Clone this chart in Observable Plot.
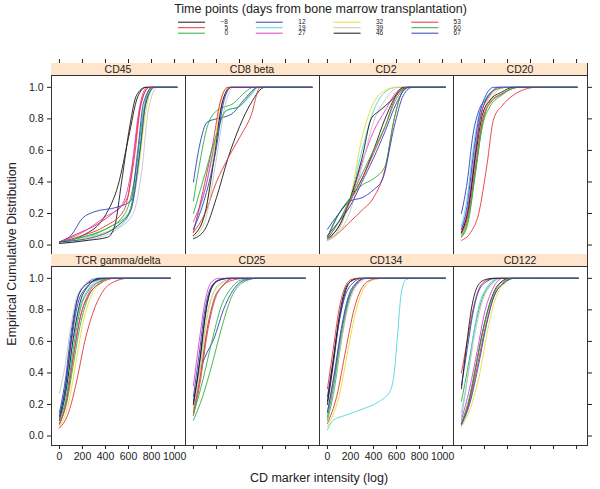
<!DOCTYPE html>
<html><head><meta charset="utf-8">
<script src="https://cdn.jsdelivr.net/npm/d3@7"></script>
<script src="https://cdn.jsdelivr.net/npm/@observablehq/plot@0.6"></script>
<style>
body{margin:0;background:#fff;font-family:"Liberation Sans",Arial,Helvetica,sans-serif;}
#chart{position:relative;width:600px;height:489px;overflow:hidden;background:#fff;}
.strip{position:absolute;background:#ffe5cc;border-bottom:1px solid #333;box-sizing:border-box;font-size:10.5px;line-height:12px;text-align:center;color:#222;font-weight:normal;}
.ytitle{position:absolute;left:12px;top:254px;transform:translate(-50%,-50%) rotate(-90deg);font-size:12.5px;white-space:nowrap;color:#222;}
.xtitle{position:absolute;left:319px;top:478px;transform:translate(-50%,-50%);font-size:12.5px;white-space:nowrap;color:#222;}
svg{overflow:visible;}
</style></head>
<body><div id="chart"></div>
<script>
// ---------- data ----------
const legendTitle = "Time points (days from bone marrow transplantation)";
const markers = ["CD45","CD8 beta","CD2","CD20","TCR gamma/delta","CD25","CD134","CD122"];
const timePoints = ["\u22128","5","0","12","19","27","32","39","46","53","60","67"];
const lineColors = ["#1a1a1a","#e8333a","#2eb040","#3040c0","#4ad8dc","#e040c8","#e8dc30","#c4c4c4","#1a1a1a","#e8333a","#2eb040","#3040c0"];
const xTicks = [0,200,400,600,800,1000];
const yTicks = [0,0.2,0.4,0.6,0.8,1];
const xAxisTitle = "CD marker intensity (log)";
const yAxisTitle = "Empirical Cumulative Distribution";

// each panel: 12 curves (one per time point), points [intensity, cumulative proportion]
const cd45 = [
  [[0,0.02],[200,0.06],[400,0.19],[510,0.38],[600,0.68],[680,0.94],[750,1],[1020,1]],
  [[0,0.02],[150,0.07],[300,0.12],[460,0.2],[590,0.3],[650,0.6],[710,0.9],[780,1],[1020,1]],
  [[0,0.02],[200,0.05],[400,0.1],[570,0.2],[670,0.5],[730,0.85],[800,1],[1020,1]],
  [[0,0.02],[100,0.06],[200,0.17],[300,0.21],[500,0.24],[620,0.28],[680,0.6],[730,0.9],[810,1],[1020,1]],
  [[0,0.02],[200,0.05],[400,0.08],[570,0.15],[680,0.45],[740,0.85],[820,1],[1020,1]],
  [[0,0.02],[200,0.08],[400,0.18],[540,0.25],[630,0.5],[690,0.85],[760,1],[1020,1]],
  [[0,0.01],[200,0.04],[450,0.1],[600,0.2],[690,0.5],[750,0.85],[820,1],[1020,1]],
  [[0,0.01],[300,0.04],[500,0.1],[640,0.2],[720,0.5],[770,0.85],[850,1],[1020,1]],
  [[0,0.01],[250,0.03],[420,0.05],[480,0.12],[540,0.4],[610,0.75],[670,0.95],[750,1],[1020,1]],
  [[0,0.02],[200,0.06],[400,0.12],[560,0.22],[650,0.55],[710,0.9],[780,1],[1020,1]],
  [[0,0.02],[250,0.06],[450,0.12],[600,0.2],[690,0.55],[750,0.9],[830,1],[1020,1]],
  [[0,0.02],[300,0.05],[500,0.12],[620,0.22],[700,0.6],[750,0.9],[820,1],[1020,1]]
];
const cd8beta = [
  [[0,0.04],[100,0.1],[200,0.3],[300,0.55],[400,0.75],[500,0.9],[620,1],[1030,1]],
  [[0,0.08],[100,0.2],[200,0.4],[300,0.55],[400,0.68],[500,0.82],[580,1],[1030,1]],
  [[0,0.28],[50,0.5],[120,0.75],[200,0.85],[350,0.9],[450,0.97],[520,1],[1030,1]],
  [[0,0.4],[50,0.62],[120,0.78],[200,0.8],[330,0.83],[450,0.93],[560,1],[1030,1]],
  [[0,0.1],[100,0.35],[200,0.7],[280,0.85],[400,0.88],[500,0.95],[560,1],[1030,1]],
  [[0,0.15],[100,0.35],[200,0.7],[260,0.93],[330,1],[1030,1]],
  [[0,0.06],[100,0.2],[180,0.6],[240,0.92],[300,1],[1030,1]],
  [[0,0.05],[100,0.15],[200,0.55],[280,0.9],[350,1],[1030,1]],
  [[0,0.06],[100,0.2],[180,0.55],[250,0.9],[320,1],[1030,1]],
  [[0,0.08],[100,0.4],[170,0.65],[230,0.9],[300,1],[1030,1]],
  [[0,0.2],[100,0.45],[200,0.7],[280,0.85],[400,0.88],[500,0.96],[560,1],[1030,1]],
  [[0,0.1],[100,0.3],[200,0.62],[260,0.9],[330,1],[1030,1]]
];
const cd2 = [
  [[0,0.05],[100,0.2],[200,0.3],[300,0.42],[400,0.6],[500,0.8],[600,0.95],[700,1],[1023,1]],
  [[0,0.03],[100,0.08],[200,0.15],[300,0.22],[400,0.3],[500,0.48],[580,0.8],[650,0.97],[700,1],[1023,1]],
  [[0,0.05],[100,0.2],[200,0.3],[300,0.38],[400,0.42],[500,0.5],[580,0.8],[650,0.97],[720,1],[1023,1]],
  [[0,0.1],[100,0.2],[200,0.28],[300,0.3],[400,0.35],[480,0.42],[580,0.75],[660,0.95],[740,1],[1023,1]],
  [[0,0.03],[100,0.1],[200,0.3],[300,0.6],[400,0.85],[500,0.97],[600,1],[1023,1]],
  [[0,0.03],[100,0.12],[200,0.28],[300,0.52],[400,0.72],[500,0.85],[600,0.97],[680,1],[1023,1]],
  [[0,0.03],[100,0.1],[200,0.3],[300,0.68],[400,0.9],[500,0.98],[600,1],[1023,1]],
  [[0,0.03],[100,0.08],[200,0.22],[300,0.5],[400,0.78],[500,0.92],[620,1],[1023,1]],
  [[0,0.04],[100,0.12],[200,0.3],[300,0.55],[380,0.8],[450,0.85],[560,0.92],[660,1],[1023,1]],
  [[0,0.04],[100,0.15],[200,0.28],[300,0.42],[400,0.58],[500,0.75],[600,0.95],[680,1],[1023,1]],
  [[0,0.04],[100,0.15],[200,0.3],[300,0.45],[400,0.6],[500,0.75],[600,0.93],[700,1],[1023,1]],
  [[0,0.06],[100,0.15],[200,0.25],[300,0.4],[400,0.55],[500,0.72],[600,0.9],[700,1],[1023,1]]
];
const cd20 = [
  [[0,0.08],[50,0.2],[100,0.45],[150,0.75],[200,0.9],[280,0.98],[400,1],[1004,1]],
  [[0,0.03],[80,0.08],[150,0.2],[220,0.5],[280,0.8],[350,0.88],[450,0.95],[650,1],[1004,1]],
  [[0,0.05],[60,0.15],[120,0.45],[180,0.75],[240,0.9],[350,0.96],[500,1],[1004,1]],
  [[0,0.2],[50,0.4],[100,0.7],[150,0.85],[220,0.93],[320,1],[1004,1]],
  [[0,0.12],[50,0.3],[100,0.6],[150,0.82],[220,0.94],[330,1],[1004,1]],
  [[0,0.1],[60,0.25],[110,0.55],[160,0.8],[230,0.93],[340,1],[1004,1]],
  [[0,0.06],[60,0.18],[120,0.5],[180,0.8],[240,0.93],[350,1],[1004,1]],
  [[0,0.06],[60,0.2],[120,0.5],[180,0.78],[250,0.92],[380,1],[1004,1]],
  [[0,0.08],[60,0.22],[120,0.55],[180,0.82],[250,0.92],[350,0.97],[450,1],[1004,1]],
  [[0,0.07],[60,0.2],[120,0.48],[180,0.78],[250,0.9],[360,0.96],[500,1],[1004,1]],
  [[0,0.05],[60,0.17],[120,0.45],[180,0.75],[250,0.88],[350,0.95],[480,1],[1004,1]],
  [[0,0.1],[50,0.25],[100,0.55],[150,0.8],[200,0.93],[280,1],[1004,1]]
];
const tcrGammaDelta = [
  [[0,0.12],[50,0.3],[100,0.6],[150,0.85],[200,0.94],[280,0.98],[380,1],[963,1]],
  [[0,0.05],[80,0.15],[150,0.35],[220,0.6],[300,0.8],[380,0.92],[480,0.98],[600,1],[963,1]],
  [[0,0.08],[60,0.2],[120,0.45],[180,0.7],[250,0.88],[330,0.96],[450,1],[963,1]],
  [[0,0.15],[50,0.35],[100,0.65],[160,0.88],[230,0.96],[330,1],[963,1]],
  [[0,0.1],[60,0.3],[120,0.6],[180,0.82],[250,0.93],[350,0.99],[420,1],[963,1]],
  [[0,0.07],[60,0.22],[120,0.5],[180,0.75],[250,0.9],[350,0.98],[450,1],[963,1]],
  [[0,0.06],[70,0.18],[140,0.45],[200,0.7],[270,0.88],[360,0.97],[460,1],[963,1]],
  [[0,0.27],[50,0.45],[100,0.7],[150,0.88],[220,0.96],[320,1],[963,1]],
  [[0,0.1],[60,0.3],[120,0.62],[180,0.85],[250,0.95],[350,1],[963,1]],
  [[0,0.08],[60,0.22],[120,0.5],[180,0.75],[260,0.9],[360,0.97],[480,1],[963,1]],
  [[0,0.1],[60,0.25],[120,0.55],[180,0.8],[250,0.92],[350,0.98],[450,1],[963,1]],
  [[0,0.13],[50,0.3],[100,0.58],[160,0.84],[230,0.94],[330,0.99],[420,1],[963,1]]
];
const cd25 = [
  [[0,0.2],[50,0.45],[100,0.75],[150,0.93],[200,0.98],[300,1],[971,1]],
  [[0,0.13],[60,0.35],[120,0.65],[180,0.85],[250,0.95],[350,0.99],[450,1],[971,1]],
  [[0,0.1],[80,0.25],[160,0.45],[250,0.7],[330,0.88],[420,0.97],[550,1],[971,1]],
  [[0,0.22],[50,0.4],[100,0.5],[180,0.62],[260,0.8],[340,0.92],[450,0.99],[550,1],[971,1]],
  [[0,0.14],[60,0.38],[120,0.68],[180,0.86],[250,0.95],[350,1],[971,1]],
  [[0,0.32],[50,0.6],[100,0.85],[150,0.97],[220,1],[971,1]],
  [[0,0.16],[60,0.42],[120,0.75],[170,0.9],[250,0.97],[350,1],[971,1]],
  [[0,0.18],[60,0.45],[120,0.78],[180,0.92],[260,0.98],[360,1],[971,1]],
  [[0,0.2],[60,0.5],[110,0.8],[160,0.94],[230,0.99],[320,1],[971,1]],
  [[0,0.15],[60,0.38],[120,0.68],[180,0.87],[250,0.95],[350,1],[971,1]],
  [[0,0.14],[80,0.35],[160,0.6],[240,0.82],[320,0.93],[420,0.99],[550,1],[971,1]],
  [[0,0.25],[50,0.52],[100,0.8],[150,0.94],[220,0.99],[300,1],[971,1]]
];
const cd134 = [
  [[0,0.2],[50,0.45],[100,0.72],[150,0.9],[200,0.98],[280,1],[1023,1]],
  [[0,0.08],[80,0.25],[160,0.55],[230,0.8],[300,0.94],[380,0.99],[480,1],[1023,1]],
  [[0,0.1],[60,0.3],[120,0.6],[180,0.84],[250,0.96],[330,1],[1023,1]],
  [[0,0.25],[50,0.48],[100,0.72],[150,0.88],[220,0.97],[300,1],[1023,1]],
  [[0,0.04],[50,0.1],[150,0.13],[300,0.17],[450,0.22],[540,0.28],[580,0.4],[610,0.65],[640,0.9],[680,0.99],[720,1],[1023,1]],
  [[0,0.15],[60,0.38],[120,0.65],[180,0.86],[250,0.96],[330,1],[1023,1]],
  [[0,0.06],[100,0.25],[180,0.55],[250,0.8],[320,0.94],[400,0.99],[480,1],[1023,1]],
  [[0,0.12],[60,0.33],[120,0.6],[180,0.82],[250,0.95],[350,1],[1023,1]],
  [[0,0.22],[50,0.48],[100,0.75],[150,0.92],[200,0.98],[270,1],[1023,1]],
  [[0,0.3],[50,0.55],[100,0.8],[150,0.94],[200,0.99],[260,1],[1023,1]],
  [[0,0.12],[60,0.35],[120,0.65],[180,0.86],[240,0.96],[320,1],[1023,1]],
  [[0,0.15],[60,0.4],[120,0.68],[180,0.88],[250,0.97],[330,1],[1023,1]]
];
const cd122 = [
  [[0,0.08],[60,0.2],[120,0.42],[180,0.65],[250,0.85],[320,0.96],[420,1],[1015,1]],
  [[0,0.4],[50,0.6],[100,0.8],[150,0.93],[200,0.98],[280,1],[1015,1]],
  [[0,0.22],[60,0.45],[120,0.7],[180,0.87],[250,0.96],[340,1],[1015,1]],
  [[0,0.32],[50,0.55],[100,0.78],[150,0.92],[220,0.98],[300,1],[1015,1]],
  [[0,0.12],[50,0.35],[100,0.62],[150,0.82],[220,0.94],[320,1],[1015,1]],
  [[0,0.1],[70,0.3],[140,0.55],[200,0.78],[270,0.93],[360,1],[1015,1]],
  [[0,0.06],[80,0.18],[160,0.4],[230,0.68],[300,0.88],[380,0.97],[460,1],[1015,1]],
  [[0,0.15],[60,0.4],[120,0.66],[180,0.85],[250,0.95],[350,1],[1015,1]],
  [[0,0.3],[40,0.55],[90,0.82],[140,0.95],[200,0.99],[280,1],[1015,1]],
  [[0,0.08],[70,0.22],[140,0.45],[210,0.7],[280,0.88],[360,0.97],[450,1],[1015,1]],
  [[0,0.08],[70,0.25],[140,0.5],[210,0.74],[280,0.9],[360,0.98],[450,1],[1015,1]],
  [[0,0.07],[70,0.2],[140,0.42],[210,0.68],[280,0.88],[370,0.97],[460,1],[1015,1]]
];
const panelCurves = [cd45, cd8beta, cd2, cd20, tcrGammaDelta, cd25, cd134, cd122];

// ---------- layout ----------
const chart = document.getElementById("chart");
const FONT = '"Liberation Sans", Arial, Helvetica, sans-serif';
const colLeft = [51, 185, 319, 453];
const panelW = 134;
const rowTop = [63, 254];
const stripH = 12;
const areaH = 179;
const yLo = -0.06, yHi = 1.075;
const yTop = yHi + stripH * (yHi - yLo) / areaH;
const xDomain = [-69, 1095];
const mL = 45, mR = 10, mT = 10, mB = 25;
const colorScale = {domain: timePoints, range: lineColors};

// legend
const legendRows = timePoints.map((t, i) => ({t, col: Math.floor(i / 3), row: i % 3}));
const legend = Plot.plot({
  width: 600, height: 44, margin: 0,
  x: {type: "identity", axis: null}, y: {type: "identity", axis: null},
  color: colorScale,
  style: {fontFamily: FONT, background: "transparent", color: "#222"},
  marks: [
    Plot.text([legendTitle], {frameAnchor: "top", dx: 20, dy: 4, fontSize: 12.5, lineAnchor: "top"}),
    Plot.ruleY(legendRows, {x1: d => 178 + d.col * 77.8, x2: d => 205 + d.col * 77.8, y: d => 21.7 + d.row * 5.5, stroke: "t", strokeWidth: 1}),
    Plot.text(legendRows, {x: d => 227.5 + d.col * 77.6, y: d => 21.7 + d.row * 5.5, text: "t", textAnchor: "end", fontSize: 6.5})
  ]
});
legend.style.position = "absolute"; legend.style.left = "0px"; legend.style.top = "0px";
chart.appendChild(legend);

markers.forEach((m, p) => {
  const r = Math.floor(p / 4), c = p % 4;
  const rows = [];
  panelCurves[p].forEach((curve, s) => curve.forEach(([x, y]) => rows.push({series: timePoints[s], x, y})));
  const xAxisOpt = r === 0
    ? {axis: "top", tickFormat: () => "", tickSize: 5}
    : {axis: "bottom", tickFormat: (c === 0 || c === 2) ? (d => String(d)) : () => "", tickSize: 4, tickPadding: 3};
  let yAxisOpt = {axis: null};
  if (c === 0) yAxisOpt = {axis: "left", tickFormat: d3.format(".1f"), tickSize: 4, tickPadding: 4};
  if (c === 3) yAxisOpt = {axis: "right", tickFormat: () => "", tickSize: 4};
  const pl = Plot.plot({
    width: panelW + mL + mR, height: stripH + areaH + mT + mB,
    marginLeft: mL, marginRight: mR, marginTop: mT, marginBottom: mB,
    x: {domain: xDomain, ticks: xTicks, label: null, ...xAxisOpt},
    y: {domain: [yLo, yTop], ticks: yTicks, label: null, ...yAxisOpt},
    color: colorScale,
    style: {fontFamily: FONT, fontSize: "10.5px", color: "#222", background: "transparent", overflow: "visible"},
    marks: [
      Plot.line(rows, {x: "x", y: "y", z: "series", stroke: "series", strokeWidth: 0.9, curve: "monotone-x"}),
      Plot.frame({stroke: "#333", strokeWidth: 1})
    ]
  });
  pl.style.position = "absolute";
  pl.style.left = (colLeft[c] - mL) + "px";
  pl.style.top = (rowTop[r] - mT) + "px";
  chart.appendChild(pl);
  const strip = document.createElement("div");
  strip.className = "strip";
  strip.style.left = colLeft[c] + "px";
  strip.style.top = rowTop[r] + "px";
  strip.style.width = panelW + "px";
  strip.style.height = (stripH + 0.5) + "px";
  strip.textContent = m;
  chart.appendChild(strip);
});

const yt = document.createElement("div"); yt.className = "ytitle"; yt.textContent = yAxisTitle; chart.appendChild(yt);
const xt = document.createElement("div"); xt.className = "xtitle"; xt.textContent = xAxisTitle; chart.appendChild(xt);
</script>
</body></html>
